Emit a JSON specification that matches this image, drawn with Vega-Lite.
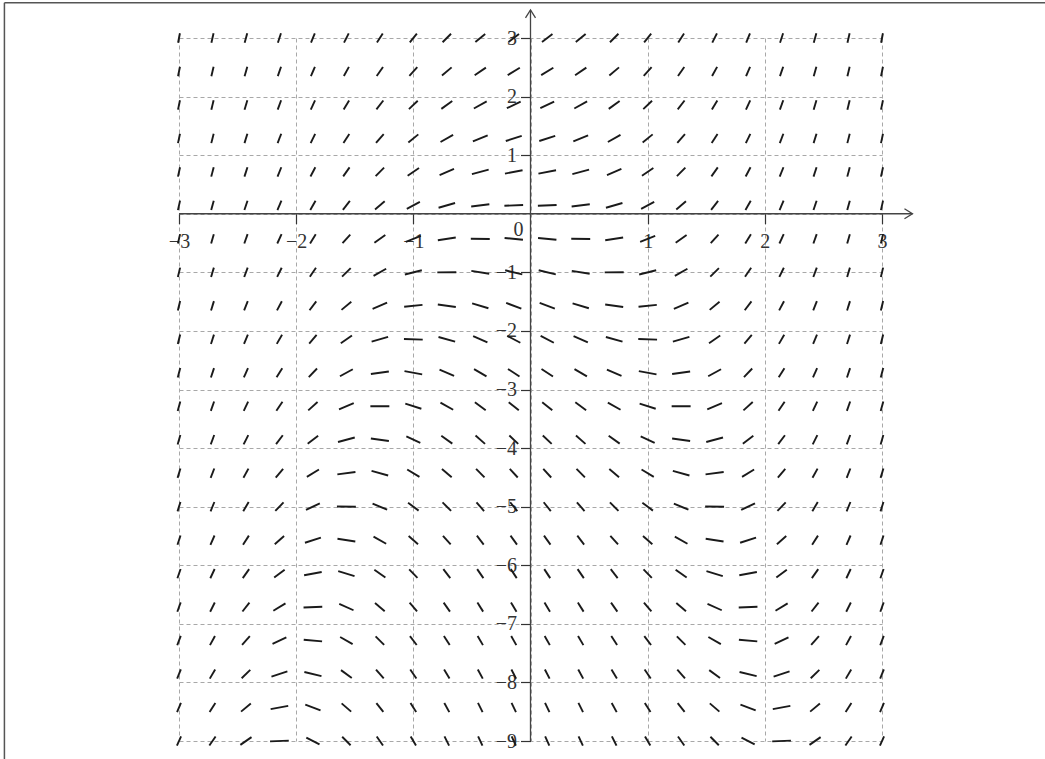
{
"$schema": "https://vega.github.io/schema/vega-lite/v6.json",
"width": 703, "height": 703,
"autosize": {"type": "none"},
"padding": {"left": 179, "top": 38, "right": 163, "bottom": 18},
"background": "white",
"config": {"view": {"stroke": null}, "font": "Liberation Serif"},
"resolve": {"axis": {"x": "independent", "y": "independent"}},
"layer": [
{
"data": {"values": [
{"x":-3,"y":3,"s":10.5},{"x":-2.7143,"y":3,"s":8.87},{"x":-2.4286,"y":3,"s":7.4},{"x":-2.1429,"y":3,"s":6.09},{"x":-1.8571,"y":3,"s":4.95},{"x":-1.5714,"y":3,"s":3.97},{"x":-1.2857,"y":3,"s":3.15},{"x":-1,"y":3,"s":2.5},{"x":-0.7143,"y":3,"s":2.01},{"x":-0.4286,"y":3,"s":1.68},{"x":-0.1429,"y":3,"s":1.52},{"x":0.1429,"y":3,"s":1.52},{"x":0.4286,"y":3,"s":1.68},{"x":0.7143,"y":3,"s":2.01},{"x":1,"y":3,"s":2.5},{"x":1.2857,"y":3,"s":3.15},{"x":1.5714,"y":3,"s":3.97},{"x":1.8571,"y":3,"s":4.95},{"x":2.1429,"y":3,"s":6.09},{"x":2.4286,"y":3,"s":7.4},{"x":2.7143,"y":3,"s":8.87},{"x":3,"y":3,"s":10.5},
{"x":-3,"y":2.4286,"s":10.21},{"x":-2.7143,"y":2.4286,"s":8.58},{"x":-2.4286,"y":2.4286,"s":7.11},{"x":-2.1429,"y":2.4286,"s":5.8},{"x":-1.8571,"y":2.4286,"s":4.66},{"x":-1.5714,"y":2.4286,"s":3.68},{"x":-1.2857,"y":2.4286,"s":2.86},{"x":-1,"y":2.4286,"s":2.21},{"x":-0.7143,"y":2.4286,"s":1.72},{"x":-0.4286,"y":2.4286,"s":1.39},{"x":-0.1429,"y":2.4286,"s":1.23},{"x":0.1429,"y":2.4286,"s":1.23},{"x":0.4286,"y":2.4286,"s":1.39},{"x":0.7143,"y":2.4286,"s":1.72},{"x":1,"y":2.4286,"s":2.21},{"x":1.2857,"y":2.4286,"s":2.86},{"x":1.5714,"y":2.4286,"s":3.68},{"x":1.8571,"y":2.4286,"s":4.66},{"x":2.1429,"y":2.4286,"s":5.8},{"x":2.4286,"y":2.4286,"s":7.11},{"x":2.7143,"y":2.4286,"s":8.58},{"x":3,"y":2.4286,"s":10.21},
{"x":-3,"y":1.8571,"s":9.93},{"x":-2.7143,"y":1.8571,"s":8.3},{"x":-2.4286,"y":1.8571,"s":6.83},{"x":-2.1429,"y":1.8571,"s":5.52},{"x":-1.8571,"y":1.8571,"s":4.38},{"x":-1.5714,"y":1.8571,"s":3.4},{"x":-1.2857,"y":1.8571,"s":2.58},{"x":-1,"y":1.8571,"s":1.93},{"x":-0.7143,"y":1.8571,"s":1.44},{"x":-0.4286,"y":1.8571,"s":1.11},{"x":-0.1429,"y":1.8571,"s":0.95},{"x":0.1429,"y":1.8571,"s":0.95},{"x":0.4286,"y":1.8571,"s":1.11},{"x":0.7143,"y":1.8571,"s":1.44},{"x":1,"y":1.8571,"s":1.93},{"x":1.2857,"y":1.8571,"s":2.58},{"x":1.5714,"y":1.8571,"s":3.4},{"x":1.8571,"y":1.8571,"s":4.38},{"x":2.1429,"y":1.8571,"s":5.52},{"x":2.4286,"y":1.8571,"s":6.83},{"x":2.7143,"y":1.8571,"s":8.3},{"x":3,"y":1.8571,"s":9.93},
{"x":-3,"y":1.2857,"s":9.64},{"x":-2.7143,"y":1.2857,"s":8.01},{"x":-2.4286,"y":1.2857,"s":6.54},{"x":-2.1429,"y":1.2857,"s":5.23},{"x":-1.8571,"y":1.2857,"s":4.09},{"x":-1.5714,"y":1.2857,"s":3.11},{"x":-1.2857,"y":1.2857,"s":2.29},{"x":-1,"y":1.2857,"s":1.64},{"x":-0.7143,"y":1.2857,"s":1.15},{"x":-0.4286,"y":1.2857,"s":0.82},{"x":-0.1429,"y":1.2857,"s":0.66},{"x":0.1429,"y":1.2857,"s":0.66},{"x":0.4286,"y":1.2857,"s":0.82},{"x":0.7143,"y":1.2857,"s":1.15},{"x":1,"y":1.2857,"s":1.64},{"x":1.2857,"y":1.2857,"s":2.29},{"x":1.5714,"y":1.2857,"s":3.11},{"x":1.8571,"y":1.2857,"s":4.09},{"x":2.1429,"y":1.2857,"s":5.23},{"x":2.4286,"y":1.2857,"s":6.54},{"x":2.7143,"y":1.2857,"s":8.01},{"x":3,"y":1.2857,"s":9.64},
{"x":-3,"y":0.7143,"s":9.36},{"x":-2.7143,"y":0.7143,"s":7.73},{"x":-2.4286,"y":0.7143,"s":6.26},{"x":-2.1429,"y":0.7143,"s":4.95},{"x":-1.8571,"y":0.7143,"s":3.81},{"x":-1.5714,"y":0.7143,"s":2.83},{"x":-1.2857,"y":0.7143,"s":2.01},{"x":-1,"y":0.7143,"s":1.36},{"x":-0.7143,"y":0.7143,"s":0.87},{"x":-0.4286,"y":0.7143,"s":0.54},{"x":-0.1429,"y":0.7143,"s":0.38},{"x":0.1429,"y":0.7143,"s":0.38},{"x":0.4286,"y":0.7143,"s":0.54},{"x":0.7143,"y":0.7143,"s":0.87},{"x":1,"y":0.7143,"s":1.36},{"x":1.2857,"y":0.7143,"s":2.01},{"x":1.5714,"y":0.7143,"s":2.83},{"x":1.8571,"y":0.7143,"s":3.81},{"x":2.1429,"y":0.7143,"s":4.95},{"x":2.4286,"y":0.7143,"s":6.26},{"x":2.7143,"y":0.7143,"s":7.73},{"x":3,"y":0.7143,"s":9.36},
{"x":-3,"y":0.1429,"s":9.07},{"x":-2.7143,"y":0.1429,"s":7.44},{"x":-2.4286,"y":0.1429,"s":5.97},{"x":-2.1429,"y":0.1429,"s":4.66},{"x":-1.8571,"y":0.1429,"s":3.52},{"x":-1.5714,"y":0.1429,"s":2.54},{"x":-1.2857,"y":0.1429,"s":1.72},{"x":-1,"y":0.1429,"s":1.07},{"x":-0.7143,"y":0.1429,"s":0.58},{"x":-0.4286,"y":0.1429,"s":0.25},{"x":-0.1429,"y":0.1429,"s":0.09},{"x":0.1429,"y":0.1429,"s":0.09},{"x":0.4286,"y":0.1429,"s":0.25},{"x":0.7143,"y":0.1429,"s":0.58},{"x":1,"y":0.1429,"s":1.07},{"x":1.2857,"y":0.1429,"s":1.72},{"x":1.5714,"y":0.1429,"s":2.54},{"x":1.8571,"y":0.1429,"s":3.52},{"x":2.1429,"y":0.1429,"s":4.66},{"x":2.4286,"y":0.1429,"s":5.97},{"x":2.7143,"y":0.1429,"s":7.44},{"x":3,"y":0.1429,"s":9.07},
{"x":-3,"y":-0.4286,"s":8.79},{"x":-2.7143,"y":-0.4286,"s":7.16},{"x":-2.4286,"y":-0.4286,"s":5.69},{"x":-2.1429,"y":-0.4286,"s":4.38},{"x":-1.8571,"y":-0.4286,"s":3.24},{"x":-1.5714,"y":-0.4286,"s":2.26},{"x":-1.2857,"y":-0.4286,"s":1.44},{"x":-1,"y":-0.4286,"s":0.79},{"x":-0.7143,"y":-0.4286,"s":0.3},{"x":-0.4286,"y":-0.4286,"s":-0.03},{"x":-0.1429,"y":-0.4286,"s":-0.19},{"x":0.1429,"y":-0.4286,"s":-0.19},{"x":0.4286,"y":-0.4286,"s":-0.03},{"x":0.7143,"y":-0.4286,"s":0.3},{"x":1,"y":-0.4286,"s":0.79},{"x":1.2857,"y":-0.4286,"s":1.44},{"x":1.5714,"y":-0.4286,"s":2.26},{"x":1.8571,"y":-0.4286,"s":3.24},{"x":2.1429,"y":-0.4286,"s":4.38},{"x":2.4286,"y":-0.4286,"s":5.69},{"x":2.7143,"y":-0.4286,"s":7.16},{"x":3,"y":-0.4286,"s":8.79},
{"x":-3,"y":-1,"s":8.5},{"x":-2.7143,"y":-1,"s":6.87},{"x":-2.4286,"y":-1,"s":5.4},{"x":-2.1429,"y":-1,"s":4.09},{"x":-1.8571,"y":-1,"s":2.95},{"x":-1.5714,"y":-1,"s":1.97},{"x":-1.2857,"y":-1,"s":1.15},{"x":-1,"y":-1,"s":0.5},{"x":-0.7143,"y":-1,"s":0.01},{"x":-0.4286,"y":-1,"s":-0.32},{"x":-0.1429,"y":-1,"s":-0.48},{"x":0.1429,"y":-1,"s":-0.48},{"x":0.4286,"y":-1,"s":-0.32},{"x":0.7143,"y":-1,"s":0.01},{"x":1,"y":-1,"s":0.5},{"x":1.2857,"y":-1,"s":1.15},{"x":1.5714,"y":-1,"s":1.97},{"x":1.8571,"y":-1,"s":2.95},{"x":2.1429,"y":-1,"s":4.09},{"x":2.4286,"y":-1,"s":5.4},{"x":2.7143,"y":-1,"s":6.87},{"x":3,"y":-1,"s":8.5},
{"x":-3,"y":-1.5714,"s":8.21},{"x":-2.7143,"y":-1.5714,"s":6.58},{"x":-2.4286,"y":-1.5714,"s":5.11},{"x":-2.1429,"y":-1.5714,"s":3.8},{"x":-1.8571,"y":-1.5714,"s":2.66},{"x":-1.5714,"y":-1.5714,"s":1.68},{"x":-1.2857,"y":-1.5714,"s":0.86},{"x":-1,"y":-1.5714,"s":0.21},{"x":-0.7143,"y":-1.5714,"s":-0.28},{"x":-0.4286,"y":-1.5714,"s":-0.61},{"x":-0.1429,"y":-1.5714,"s":-0.77},{"x":0.1429,"y":-1.5714,"s":-0.77},{"x":0.4286,"y":-1.5714,"s":-0.61},{"x":0.7143,"y":-1.5714,"s":-0.28},{"x":1,"y":-1.5714,"s":0.21},{"x":1.2857,"y":-1.5714,"s":0.86},{"x":1.5714,"y":-1.5714,"s":1.68},{"x":1.8571,"y":-1.5714,"s":2.66},{"x":2.1429,"y":-1.5714,"s":3.8},{"x":2.4286,"y":-1.5714,"s":5.11},{"x":2.7143,"y":-1.5714,"s":6.58},{"x":3,"y":-1.5714,"s":8.21},
{"x":-3,"y":-2.1429,"s":7.93},{"x":-2.7143,"y":-2.1429,"s":6.3},{"x":-2.4286,"y":-2.1429,"s":4.83},{"x":-2.1429,"y":-2.1429,"s":3.52},{"x":-1.8571,"y":-2.1429,"s":2.38},{"x":-1.5714,"y":-2.1429,"s":1.4},{"x":-1.2857,"y":-2.1429,"s":0.58},{"x":-1,"y":-2.1429,"s":-0.07},{"x":-0.7143,"y":-2.1429,"s":-0.56},{"x":-0.4286,"y":-2.1429,"s":-0.89},{"x":-0.1429,"y":-2.1429,"s":-1.05},{"x":0.1429,"y":-2.1429,"s":-1.05},{"x":0.4286,"y":-2.1429,"s":-0.89},{"x":0.7143,"y":-2.1429,"s":-0.56},{"x":1,"y":-2.1429,"s":-0.07},{"x":1.2857,"y":-2.1429,"s":0.58},{"x":1.5714,"y":-2.1429,"s":1.4},{"x":1.8571,"y":-2.1429,"s":2.38},{"x":2.1429,"y":-2.1429,"s":3.52},{"x":2.4286,"y":-2.1429,"s":4.83},{"x":2.7143,"y":-2.1429,"s":6.3},{"x":3,"y":-2.1429,"s":7.93},
{"x":-3,"y":-2.7143,"s":7.64},{"x":-2.7143,"y":-2.7143,"s":6.01},{"x":-2.4286,"y":-2.7143,"s":4.54},{"x":-2.1429,"y":-2.7143,"s":3.23},{"x":-1.8571,"y":-2.7143,"s":2.09},{"x":-1.5714,"y":-2.7143,"s":1.11},{"x":-1.2857,"y":-2.7143,"s":0.29},{"x":-1,"y":-2.7143,"s":-0.36},{"x":-0.7143,"y":-2.7143,"s":-0.85},{"x":-0.4286,"y":-2.7143,"s":-1.18},{"x":-0.1429,"y":-2.7143,"s":-1.34},{"x":0.1429,"y":-2.7143,"s":-1.34},{"x":0.4286,"y":-2.7143,"s":-1.18},{"x":0.7143,"y":-2.7143,"s":-0.85},{"x":1,"y":-2.7143,"s":-0.36},{"x":1.2857,"y":-2.7143,"s":0.29},{"x":1.5714,"y":-2.7143,"s":1.11},{"x":1.8571,"y":-2.7143,"s":2.09},{"x":2.1429,"y":-2.7143,"s":3.23},{"x":2.4286,"y":-2.7143,"s":4.54},{"x":2.7143,"y":-2.7143,"s":6.01},{"x":3,"y":-2.7143,"s":7.64},
{"x":-3,"y":-3.2857,"s":7.36},{"x":-2.7143,"y":-3.2857,"s":5.73},{"x":-2.4286,"y":-3.2857,"s":4.26},{"x":-2.1429,"y":-3.2857,"s":2.95},{"x":-1.8571,"y":-3.2857,"s":1.81},{"x":-1.5714,"y":-3.2857,"s":0.83},{"x":-1.2857,"y":-3.2857,"s":0.01},{"x":-1,"y":-3.2857,"s":-0.64},{"x":-0.7143,"y":-3.2857,"s":-1.13},{"x":-0.4286,"y":-3.2857,"s":-1.46},{"x":-0.1429,"y":-3.2857,"s":-1.62},{"x":0.1429,"y":-3.2857,"s":-1.62},{"x":0.4286,"y":-3.2857,"s":-1.46},{"x":0.7143,"y":-3.2857,"s":-1.13},{"x":1,"y":-3.2857,"s":-0.64},{"x":1.2857,"y":-3.2857,"s":0.01},{"x":1.5714,"y":-3.2857,"s":0.83},{"x":1.8571,"y":-3.2857,"s":1.81},{"x":2.1429,"y":-3.2857,"s":2.95},{"x":2.4286,"y":-3.2857,"s":4.26},{"x":2.7143,"y":-3.2857,"s":5.73},{"x":3,"y":-3.2857,"s":7.36},
{"x":-3,"y":-3.8571,"s":7.07},{"x":-2.7143,"y":-3.8571,"s":5.44},{"x":-2.4286,"y":-3.8571,"s":3.97},{"x":-2.1429,"y":-3.8571,"s":2.66},{"x":-1.8571,"y":-3.8571,"s":1.52},{"x":-1.5714,"y":-3.8571,"s":0.54},{"x":-1.2857,"y":-3.8571,"s":-0.28},{"x":-1,"y":-3.8571,"s":-0.93},{"x":-0.7143,"y":-3.8571,"s":-1.42},{"x":-0.4286,"y":-3.8571,"s":-1.75},{"x":-0.1429,"y":-3.8571,"s":-1.91},{"x":0.1429,"y":-3.8571,"s":-1.91},{"x":0.4286,"y":-3.8571,"s":-1.75},{"x":0.7143,"y":-3.8571,"s":-1.42},{"x":1,"y":-3.8571,"s":-0.93},{"x":1.2857,"y":-3.8571,"s":-0.28},{"x":1.5714,"y":-3.8571,"s":0.54},{"x":1.8571,"y":-3.8571,"s":1.52},{"x":2.1429,"y":-3.8571,"s":2.66},{"x":2.4286,"y":-3.8571,"s":3.97},{"x":2.7143,"y":-3.8571,"s":5.44},{"x":3,"y":-3.8571,"s":7.07},
{"x":-3,"y":-4.4286,"s":6.79},{"x":-2.7143,"y":-4.4286,"s":5.16},{"x":-2.4286,"y":-4.4286,"s":3.69},{"x":-2.1429,"y":-4.4286,"s":2.38},{"x":-1.8571,"y":-4.4286,"s":1.24},{"x":-1.5714,"y":-4.4286,"s":0.26},{"x":-1.2857,"y":-4.4286,"s":-0.56},{"x":-1,"y":-4.4286,"s":-1.21},{"x":-0.7143,"y":-4.4286,"s":-1.7},{"x":-0.4286,"y":-4.4286,"s":-2.03},{"x":-0.1429,"y":-4.4286,"s":-2.19},{"x":0.1429,"y":-4.4286,"s":-2.19},{"x":0.4286,"y":-4.4286,"s":-2.03},{"x":0.7143,"y":-4.4286,"s":-1.7},{"x":1,"y":-4.4286,"s":-1.21},{"x":1.2857,"y":-4.4286,"s":-0.56},{"x":1.5714,"y":-4.4286,"s":0.26},{"x":1.8571,"y":-4.4286,"s":1.24},{"x":2.1429,"y":-4.4286,"s":2.38},{"x":2.4286,"y":-4.4286,"s":3.69},{"x":2.7143,"y":-4.4286,"s":5.16},{"x":3,"y":-4.4286,"s":6.79},
{"x":-3,"y":-5,"s":6.5},{"x":-2.7143,"y":-5,"s":4.87},{"x":-2.4286,"y":-5,"s":3.4},{"x":-2.1429,"y":-5,"s":2.09},{"x":-1.8571,"y":-5,"s":0.95},{"x":-1.5714,"y":-5,"s":-0.03},{"x":-1.2857,"y":-5,"s":-0.85},{"x":-1,"y":-5,"s":-1.5},{"x":-0.7143,"y":-5,"s":-1.99},{"x":-0.4286,"y":-5,"s":-2.32},{"x":-0.1429,"y":-5,"s":-2.48},{"x":0.1429,"y":-5,"s":-2.48},{"x":0.4286,"y":-5,"s":-2.32},{"x":0.7143,"y":-5,"s":-1.99},{"x":1,"y":-5,"s":-1.5},{"x":1.2857,"y":-5,"s":-0.85},{"x":1.5714,"y":-5,"s":-0.03},{"x":1.8571,"y":-5,"s":0.95},{"x":2.1429,"y":-5,"s":2.09},{"x":2.4286,"y":-5,"s":3.4},{"x":2.7143,"y":-5,"s":4.87},{"x":3,"y":-5,"s":6.5},
{"x":-3,"y":-5.5714,"s":6.21},{"x":-2.7143,"y":-5.5714,"s":4.58},{"x":-2.4286,"y":-5.5714,"s":3.11},{"x":-2.1429,"y":-5.5714,"s":1.8},{"x":-1.8571,"y":-5.5714,"s":0.66},{"x":-1.5714,"y":-5.5714,"s":-0.32},{"x":-1.2857,"y":-5.5714,"s":-1.14},{"x":-1,"y":-5.5714,"s":-1.79},{"x":-0.7143,"y":-5.5714,"s":-2.28},{"x":-0.4286,"y":-5.5714,"s":-2.61},{"x":-0.1429,"y":-5.5714,"s":-2.77},{"x":0.1429,"y":-5.5714,"s":-2.77},{"x":0.4286,"y":-5.5714,"s":-2.61},{"x":0.7143,"y":-5.5714,"s":-2.28},{"x":1,"y":-5.5714,"s":-1.79},{"x":1.2857,"y":-5.5714,"s":-1.14},{"x":1.5714,"y":-5.5714,"s":-0.32},{"x":1.8571,"y":-5.5714,"s":0.66},{"x":2.1429,"y":-5.5714,"s":1.8},{"x":2.4286,"y":-5.5714,"s":3.11},{"x":2.7143,"y":-5.5714,"s":4.58},{"x":3,"y":-5.5714,"s":6.21},
{"x":-3,"y":-6.1429,"s":5.93},{"x":-2.7143,"y":-6.1429,"s":4.3},{"x":-2.4286,"y":-6.1429,"s":2.83},{"x":-2.1429,"y":-6.1429,"s":1.52},{"x":-1.8571,"y":-6.1429,"s":0.38},{"x":-1.5714,"y":-6.1429,"s":-0.6},{"x":-1.2857,"y":-6.1429,"s":-1.42},{"x":-1,"y":-6.1429,"s":-2.07},{"x":-0.7143,"y":-6.1429,"s":-2.56},{"x":-0.4286,"y":-6.1429,"s":-2.89},{"x":-0.1429,"y":-6.1429,"s":-3.05},{"x":0.1429,"y":-6.1429,"s":-3.05},{"x":0.4286,"y":-6.1429,"s":-2.89},{"x":0.7143,"y":-6.1429,"s":-2.56},{"x":1,"y":-6.1429,"s":-2.07},{"x":1.2857,"y":-6.1429,"s":-1.42},{"x":1.5714,"y":-6.1429,"s":-0.6},{"x":1.8571,"y":-6.1429,"s":0.38},{"x":2.1429,"y":-6.1429,"s":1.52},{"x":2.4286,"y":-6.1429,"s":2.83},{"x":2.7143,"y":-6.1429,"s":4.3},{"x":3,"y":-6.1429,"s":5.93},
{"x":-3,"y":-6.7143,"s":5.64},{"x":-2.7143,"y":-6.7143,"s":4.01},{"x":-2.4286,"y":-6.7143,"s":2.54},{"x":-2.1429,"y":-6.7143,"s":1.23},{"x":-1.8571,"y":-6.7143,"s":0.09},{"x":-1.5714,"y":-6.7143,"s":-0.89},{"x":-1.2857,"y":-6.7143,"s":-1.71},{"x":-1,"y":-6.7143,"s":-2.36},{"x":-0.7143,"y":-6.7143,"s":-2.85},{"x":-0.4286,"y":-6.7143,"s":-3.18},{"x":-0.1429,"y":-6.7143,"s":-3.34},{"x":0.1429,"y":-6.7143,"s":-3.34},{"x":0.4286,"y":-6.7143,"s":-3.18},{"x":0.7143,"y":-6.7143,"s":-2.85},{"x":1,"y":-6.7143,"s":-2.36},{"x":1.2857,"y":-6.7143,"s":-1.71},{"x":1.5714,"y":-6.7143,"s":-0.89},{"x":1.8571,"y":-6.7143,"s":0.09},{"x":2.1429,"y":-6.7143,"s":1.23},{"x":2.4286,"y":-6.7143,"s":2.54},{"x":2.7143,"y":-6.7143,"s":4.01},{"x":3,"y":-6.7143,"s":5.64},
{"x":-3,"y":-7.2857,"s":5.36},{"x":-2.7143,"y":-7.2857,"s":3.73},{"x":-2.4286,"y":-7.2857,"s":2.26},{"x":-2.1429,"y":-7.2857,"s":0.95},{"x":-1.8571,"y":-7.2857,"s":-0.19},{"x":-1.5714,"y":-7.2857,"s":-1.17},{"x":-1.2857,"y":-7.2857,"s":-1.99},{"x":-1,"y":-7.2857,"s":-2.64},{"x":-0.7143,"y":-7.2857,"s":-3.13},{"x":-0.4286,"y":-7.2857,"s":-3.46},{"x":-0.1429,"y":-7.2857,"s":-3.62},{"x":0.1429,"y":-7.2857,"s":-3.62},{"x":0.4286,"y":-7.2857,"s":-3.46},{"x":0.7143,"y":-7.2857,"s":-3.13},{"x":1,"y":-7.2857,"s":-2.64},{"x":1.2857,"y":-7.2857,"s":-1.99},{"x":1.5714,"y":-7.2857,"s":-1.17},{"x":1.8571,"y":-7.2857,"s":-0.19},{"x":2.1429,"y":-7.2857,"s":0.95},{"x":2.4286,"y":-7.2857,"s":2.26},{"x":2.7143,"y":-7.2857,"s":3.73},{"x":3,"y":-7.2857,"s":5.36},
{"x":-3,"y":-7.8571,"s":5.07},{"x":-2.7143,"y":-7.8571,"s":3.44},{"x":-2.4286,"y":-7.8571,"s":1.97},{"x":-2.1429,"y":-7.8571,"s":0.66},{"x":-1.8571,"y":-7.8571,"s":-0.48},{"x":-1.5714,"y":-7.8571,"s":-1.46},{"x":-1.2857,"y":-7.8571,"s":-2.28},{"x":-1,"y":-7.8571,"s":-2.93},{"x":-0.7143,"y":-7.8571,"s":-3.42},{"x":-0.4286,"y":-7.8571,"s":-3.75},{"x":-0.1429,"y":-7.8571,"s":-3.91},{"x":0.1429,"y":-7.8571,"s":-3.91},{"x":0.4286,"y":-7.8571,"s":-3.75},{"x":0.7143,"y":-7.8571,"s":-3.42},{"x":1,"y":-7.8571,"s":-2.93},{"x":1.2857,"y":-7.8571,"s":-2.28},{"x":1.5714,"y":-7.8571,"s":-1.46},{"x":1.8571,"y":-7.8571,"s":-0.48},{"x":2.1429,"y":-7.8571,"s":0.66},{"x":2.4286,"y":-7.8571,"s":1.97},{"x":2.7143,"y":-7.8571,"s":3.44},{"x":3,"y":-7.8571,"s":5.07},
{"x":-3,"y":-8.4286,"s":4.79},{"x":-2.7143,"y":-8.4286,"s":3.16},{"x":-2.4286,"y":-8.4286,"s":1.69},{"x":-2.1429,"y":-8.4286,"s":0.38},{"x":-1.8571,"y":-8.4286,"s":-0.76},{"x":-1.5714,"y":-8.4286,"s":-1.74},{"x":-1.2857,"y":-8.4286,"s":-2.56},{"x":-1,"y":-8.4286,"s":-3.21},{"x":-0.7143,"y":-8.4286,"s":-3.7},{"x":-0.4286,"y":-8.4286,"s":-4.03},{"x":-0.1429,"y":-8.4286,"s":-4.19},{"x":0.1429,"y":-8.4286,"s":-4.19},{"x":0.4286,"y":-8.4286,"s":-4.03},{"x":0.7143,"y":-8.4286,"s":-3.7},{"x":1,"y":-8.4286,"s":-3.21},{"x":1.2857,"y":-8.4286,"s":-2.56},{"x":1.5714,"y":-8.4286,"s":-1.74},{"x":1.8571,"y":-8.4286,"s":-0.76},{"x":2.1429,"y":-8.4286,"s":0.38},{"x":2.4286,"y":-8.4286,"s":1.69},{"x":2.7143,"y":-8.4286,"s":3.16},{"x":3,"y":-8.4286,"s":4.79},
{"x":-3,"y":-9,"s":4.5},{"x":-2.7143,"y":-9,"s":2.87},{"x":-2.4286,"y":-9,"s":1.4},{"x":-2.1429,"y":-9,"s":0.09},{"x":-1.8571,"y":-9,"s":-1.05},{"x":-1.5714,"y":-9,"s":-2.03},{"x":-1.2857,"y":-9,"s":-2.85},{"x":-1,"y":-9,"s":-3.5},{"x":-0.7143,"y":-9,"s":-3.99},{"x":-0.4286,"y":-9,"s":-4.32},{"x":-0.1429,"y":-9,"s":-4.48},{"x":0.1429,"y":-9,"s":-4.48},{"x":0.4286,"y":-9,"s":-4.32},{"x":0.7143,"y":-9,"s":-3.99},{"x":1,"y":-9,"s":-3.5},{"x":1.2857,"y":-9,"s":-2.85},{"x":1.5714,"y":-9,"s":-2.03},{"x":1.8571,"y":-9,"s":-1.05},{"x":2.1429,"y":-9,"s":0.09},{"x":2.4286,"y":-9,"s":1.4},{"x":2.7143,"y":-9,"s":2.87},{"x":3,"y":-9,"s":4.5}
]},
"mark": {"type": "point", "shape": "stroke", "filled": false, "stroke": "#1a1a1a", "strokeWidth": 1.9, "opacity": 1},
"encoding": {
"x": {"field": "x", "type": "quantitative",
 "scale": {"domain": [-3, 3], "nice": false, "zero": false},
 "axis": {"values": [-3,-2.5,-2,-1.5,-1,-0.5,0,0.5,1,1.5,2,2.5,3], "orient": "bottom", "offset": -527.25,
  "domain": false, "grid": true, "gridColor": "#a8a8a8", "gridDash": [4,3], "gridWidth": 1,
  "tickSize": 10, "tickColor": "#333", "tickWidth": 1.2,
  "tickOpacity": {"condition": {"test": "datum.value % 1 !== 0 || datum.value === 0", "value": 0}, "value": 1},
  "format": "d", "labelExpr": "datum.value % 1 === 0 && datum.value !== 0 ? datum.label : ''",
  "labelFont": "Liberation Serif", "labelFontSize": 20, "labelColor": "#333", "labelPadding": 8,
  "labelFlush": false, "labelOverlap": false, "title": null}},
"y": {"field": "y", "type": "quantitative",
 "scale": {"domain": [-9, 3], "nice": false, "zero": false},
 "axis": {"values": [-9,-8,-7,-6,-5,-4,-3,-2,-1,0,1,2,3], "orient": "left", "offset": -351.5,
  "domain": false, "grid": true, "gridColor": "#a8a8a8", "gridDash": [4,3], "gridWidth": 1,
  "tickSize": 10, "tickColor": "#333", "tickWidth": 1.2,
  "tickOpacity": {"condition": {"test": "datum.value === 0", "value": 0}, "value": 1},
  "format": "d", "labelExpr": "datum.value !== 0 ? datum.label : ''",
  "labelFont": "Liberation Serif", "labelFontSize": 20, "labelColor": "#333", "labelPadding": 4,
  "labelFlush": false, "labelOverlap": false, "title": null}},
"angle": {"field": "s", "type": "quantitative", "legend": null,
 "scale": {"domain": [-5,-4,-3,-2.5,-2,-1.5,-1,-0.5,0,0.5,1,1.5,2,2.5,3,4,5,6,8,11],
           "range": [68.2,63.43,56.31,51.34,45,36.87,26.57,14.04,0,-14.04,-26.57,-36.87,-45,-51.34,-56.31,-63.43,-68.2,-71.57,-75.96,-79.7]}},
"size": {"field": "s", "type": "quantitative", "legend": null,
 "scale": {"domain": [-5,-4,-3,-2.5,-2,-1.5,-1,-0.5,0,0.5,1,1.5,2,2.5,3,4,5,6,8,11],
           "range": [100.7,106.2,117.3,127.6,144.4,173.6,225.6,306.8,361,306.8,225.6,173.6,144.4,127.6,117.3,106.2,100.7,97.6,94.4,92.5]}}
}
},
{
"data": {"values": [{}]},
"mark": {"type": "rule", "stroke": "#444", "strokeWidth": 1.3},
"encoding": {"x": {"datum": -3, "type": "quantitative", "axis": null}, "x2": {"datum": 3.26}, "y": {"datum": 0, "type": "quantitative", "axis": null}}
},
{
"data": {"values": [{}]},
"mark": {"type": "rule", "stroke": "#444", "strokeWidth": 1.3},
"encoding": {"x": {"datum": 0, "type": "quantitative", "axis": null}, "y": {"datum": -9, "type": "quantitative", "axis": null}, "y2": {"datum": 3.48}}
},
{
"data": {"values": [{}]},
"mark": {"type": "point", "shape": "M-1.6,-1L0,0L-1.6,1", "size": 100, "filled": false, "stroke": "#444", "strokeWidth": 1.3, "opacity": 1},
"encoding": {"x": {"datum": 3.26, "type": "quantitative", "axis": null}, "y": {"datum": 0, "type": "quantitative", "axis": null}}
},
{
"data": {"values": [{}]},
"mark": {"type": "point", "shape": "M-1.6,-1L0,0L-1.6,1", "size": 100, "angle": -90, "filled": false, "stroke": "#444", "strokeWidth": 1.3, "opacity": 1},
"encoding": {"x": {"datum": 0, "type": "quantitative", "axis": null}, "y": {"datum": 3.48, "type": "quantitative", "axis": null}}
},
{
"data": {"values": [{}]},
"mark": {"type": "rule", "stroke": "#555", "strokeWidth": 1.5},
"encoding": {"x": {"datum": -4.49, "type": "quantitative", "axis": null}, "x2": {"datum": 4.5}, "y": {"datum": 3.603, "type": "quantitative", "axis": null}}
},
{
"data": {"values": [{}]},
"mark": {"type": "rule", "stroke": "#555", "strokeWidth": 1.5},
"encoding": {"x": {"datum": -4.49, "type": "quantitative", "axis": null}, "y": {"datum": 3.603, "type": "quantitative", "axis": null}, "y2": {"datum": -9.5}}
},
{
"data": {"values": [{}]},
"mark": {"type": "text", "text": "0", "font": "Liberation Serif", "fontSize": 20, "fill": "#333", "dx": -12, "dy": 16, "align": "center", "baseline": "middle"},
"encoding": {"x": {"datum": 0, "type": "quantitative", "axis": null}, "y": {"datum": 0, "type": "quantitative", "axis": null}}
}
]
}
